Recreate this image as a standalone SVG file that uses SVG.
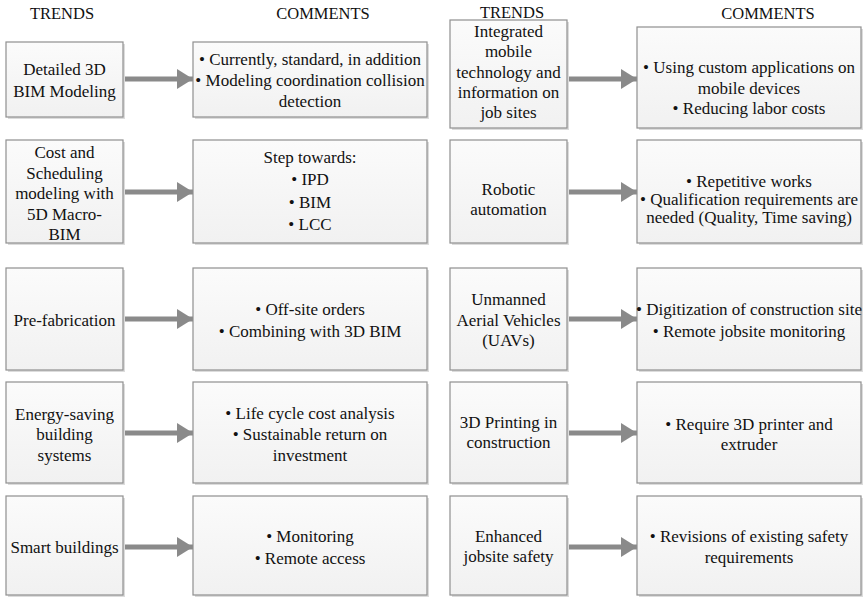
<svg xmlns="http://www.w3.org/2000/svg" width="865" height="597" viewBox="0 0 865 597" font-family="'Liberation Serif', 'Times New Roman', serif">
<defs>
<linearGradient id="g" x1="0" y1="0" x2="0" y2="1">
<stop offset="0" stop-color="#fbfbfb"/>
<stop offset="1" stop-color="#f1f1f1"/>
</linearGradient>
<marker id="ah" markerWidth="16" markerHeight="20" refX="16" refY="10" orient="auto" markerUnits="userSpaceOnUse">
<path d="M0,0 L16,10 L0,20 Z" fill="#8a8a8a"/>
</marker>
</defs>
<style>
text{font-family:"Liberation Serif","Times New Roman",serif;font-size:17px;fill:#111;text-anchor:middle}
.hd{font-size:16.5px}
.box{fill:url(#g);stroke:#8f8f8f;stroke-width:1.2}
.sh{fill:#dcdcdc}
.arr{stroke:#8a8a8a;stroke-width:5;fill:none;marker-end:url(#ah)}
</style>
<rect width="865" height="597" fill="#ffffff"/>
<g id="headers">
<text class="hd" x="62" y="19">TRENDS</text>
<text class="hd" x="323" y="19">COMMENTS</text>
<text class="hd" x="512" y="18">TRENDS</text>
<text class="hd" x="768" y="19">COMMENTS</text>
</g>
<g id="connectors">
<line class="arr" x1="123" y1="79" x2="193" y2="79"/>
<line class="arr" x1="123" y1="192" x2="193" y2="192"/>
<line class="arr" x1="123" y1="319" x2="193" y2="319"/>
<line class="arr" x1="123" y1="433" x2="193" y2="433"/>
<line class="arr" x1="123" y1="547" x2="193" y2="547"/>
<line class="arr" x1="567" y1="79" x2="637" y2="79"/>
<line class="arr" x1="567" y1="192" x2="637" y2="192"/>
<line class="arr" x1="567" y1="319" x2="637" y2="319"/>
<line class="arr" x1="567" y1="433" x2="637" y2="433"/>
<line class="arr" x1="567" y1="547" x2="637" y2="547"/>
</g>
<g id="t1"><rect class="sh" x="8" y="44" width="117" height="75"/><rect class="box" x="6" y="42" width="117" height="75"/>
<text x="64.5" y="75">Detailed 3D</text><text x="64.5" y="97">BIM Modeling</text></g>
<g id="c1"><rect class="sh" x="195" y="44" width="234" height="75"/><rect class="box" x="193" y="42" width="234" height="75"/>
<text x="310" y="65">• Currently, standard, in addition</text><text x="310" y="86">• Modeling coordination collision</text><text x="310" y="107">detection</text></g>
<g id="t2"><rect class="sh" x="8" y="142" width="117" height="103"/><rect class="box" x="6" y="140" width="117" height="103"/>
<text x="64.5" y="158">Cost and</text><text x="64.5" y="178.5">Scheduling</text><text x="64.5" y="199">modeling with</text><text x="64.5" y="219.5">5D Macro-</text><text x="64.5" y="240">BIM</text></g>
<g id="c2"><rect class="sh" x="195" y="142" width="234" height="103"/><rect class="box" x="193" y="140" width="234" height="103"/>
<text x="310" y="163">Step towards:</text><text x="310" y="185">• IPD</text><text x="310" y="207.5">• BIM</text><text x="310" y="230">• LCC</text></g>
<g id="t3"><rect class="sh" x="8" y="270" width="117" height="102"/><rect class="box" x="6" y="268" width="117" height="102"/>
<text x="64.5" y="326">Pre-fabrication</text></g>
<g id="c3"><rect class="sh" x="195" y="270" width="234" height="102"/><rect class="box" x="193" y="268" width="234" height="102"/>
<text x="310" y="315">• Off-site orders</text><text x="310" y="337">• Combining with 3D BIM</text></g>
<g id="t4"><rect class="sh" x="8" y="384" width="117" height="101"/><rect class="box" x="6" y="382" width="117" height="101"/>
<text x="64.5" y="420">Energy-saving</text><text x="64.5" y="440">building</text><text x="64.5" y="461">systems</text></g>
<g id="c4"><rect class="sh" x="195" y="384" width="234" height="101"/><rect class="box" x="193" y="382" width="234" height="101"/>
<text x="310" y="419">• Life cycle cost analysis</text><text x="310" y="440">• Sustainable return on</text><text x="310" y="461">investment</text></g>
<g id="t5"><rect class="sh" x="8" y="498" width="117" height="99"/><rect class="box" x="6" y="496" width="117" height="99"/>
<text x="64.5" y="553">Smart buildings</text></g>
<g id="c5"><rect class="sh" x="195" y="498" width="234" height="99"/><rect class="box" x="193" y="496" width="234" height="99"/>
<text x="310" y="542">• Monitoring</text><text x="310" y="564">• Remote access</text></g>
<g id="t6"><rect class="sh" x="452" y="22" width="117" height="108"/><rect class="box" x="450" y="20" width="117" height="108"/>
<text x="508.5" y="37">Integrated</text><text x="508.5" y="57.3">mobile</text><text x="508.5" y="77.5">technology and</text><text x="508.5" y="97.8">information on</text><text x="508.5" y="118">job sites</text></g>
<g id="c6"><rect class="sh" x="639" y="29" width="224" height="101"/><rect class="box" x="637" y="27" width="224" height="101"/>
<text x="749" y="73">• Using custom applications on</text><text x="749" y="94">mobile devices</text><text x="749" y="114">• Reducing labor costs</text></g>
<g id="t7"><rect class="sh" x="452" y="142" width="117" height="103"/><rect class="box" x="450" y="140" width="117" height="103"/>
<text x="508.5" y="195">Robotic</text><text x="508.5" y="215">automation</text></g>
<g id="c7"><rect class="sh" x="639" y="142" width="224" height="103"/><rect class="box" x="637" y="140" width="224" height="103"/>
<text x="749" y="187">• Repetitive works</text><text x="749" y="205">• Qualification requirements are</text><text x="749" y="223">needed (Quality, Time saving)</text></g>
<g id="t8"><rect class="sh" x="452" y="270" width="117" height="102"/><rect class="box" x="450" y="268" width="117" height="102"/>
<text x="508.5" y="305">Unmanned</text><text x="508.5" y="325.5">Aerial Vehicles</text><text x="508.5" y="346">(UAVs)</text></g>
<g id="c8"><rect class="sh" x="639" y="270" width="224" height="102"/><rect class="box" x="637" y="268" width="224" height="102"/>
<text x="749" y="315">• Digitization of construction site</text><text x="749" y="337">• Remote jobsite monitoring</text></g>
<g id="t9"><rect class="sh" x="452" y="384" width="117" height="101"/><rect class="box" x="450" y="382" width="117" height="101"/>
<text x="508.5" y="428">3D Printing in</text><text x="508.5" y="448">construction</text></g>
<g id="c9"><rect class="sh" x="639" y="384" width="224" height="101"/><rect class="box" x="637" y="382" width="224" height="101"/>
<text x="749" y="430">• Require 3D printer and</text><text x="749" y="450">extruder</text></g>
<g id="t10"><rect class="sh" x="452" y="498" width="117" height="99"/><rect class="box" x="450" y="496" width="117" height="99"/>
<text x="508.5" y="542">Enhanced</text><text x="508.5" y="562">jobsite safety</text></g>
<g id="c10"><rect class="sh" x="639" y="498" width="224" height="99"/><rect class="box" x="637" y="496" width="224" height="99"/>
<text x="749" y="542">• Revisions of existing safety</text><text x="749" y="563">requirements</text></g>
</svg>
